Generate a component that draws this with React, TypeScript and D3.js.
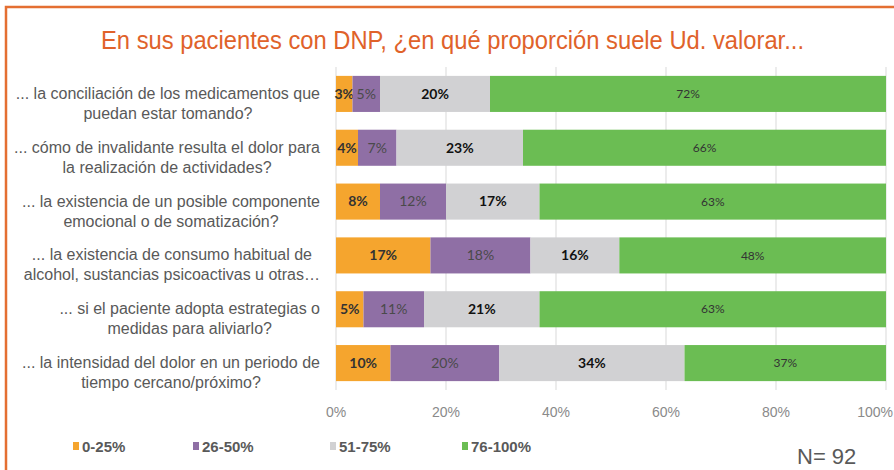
import React from "react";
import * as d3 from "d3";

const categories = [
  ["... la conciliación de los medicamentos que", "puedan estar tomando?"],
  ["... cómo de invalidante resulta el dolor para", "la realización de actividades?"],
  ["... la existencia de un posible componente", "emocional o de somatización?"],
  ["... la existencia de consumo habitual de", "alcohol, sustancias psicoactivas u otras…"],
  ["... si el paciente adopta estrategias o", "medidas para aliviarlo?"],
  ["... la intensidad del dolor en un periodo de", "tiempo cercano/próximo?"],
];
const seriesNames = ["0-25%", "26-50%", "51-75%", "76-100%"];
const v0_25 = [3, 4, 8, 17, 5, 10];
const v26_50 = [5, 7, 12, 18, 11, 20];
const v51_75 = [20, 23, 17, 16, 21, 34];
const v76_100 = [72, 66, 63, 48, 63, 37];
const xTicks = [0, 0.2, 0.4, 0.6, 0.8, 1];
const title = "En sus pacientes con DNP, ¿en qué proporción suele Ud. valorar...";
const nLabel = "N= 92";

const colors = ["#F5A52E", "#8F6FA5", "#D1D1D3", "#6BBD53"];
const labelStyles = [
  { weight: 700, size: 14, fill: "#333333" },
  { weight: 400, size: 14, fill: "#4a4a4a" },
  { weight: 700, size: 14, fill: "#111111" },
  { weight: 400, size: 12, fill: "#333333" },
];

const W = 894;
const H = 470;

function measure(text: string, font: string) {
  const c = document.createElement("canvas");
  const ctx = c.getContext("2d")!;
  ctx.font = font;
  return ctx.measureText(text).width;
}

export default function App() {
  const rows = categories.map((c, i) => ({
    key: String(i),
    s0: v0_25[i],
    s1: v26_50[i],
    s2: v51_75[i],
    s3: v76_100[i],
  }));
  const stack = d3
    .stack<any>()
    .keys(["s0", "s1", "s2", "s3"])
    .offset(d3.stackOffsetExpand);
  const series = stack(rows);
  const rawVals = [v0_25, v26_50, v51_75, v76_100];

  const x = d3.scaleLinear().domain([0, 1]).range([336, 886]);
  const y = d3
    .scaleBand<string>()
    .domain(rows.map((r) => r.key))
    .range([67, 390])
    .paddingInner(0.33)
    .paddingOuter(0.165);

  const catFont = "16px 'Liberation Sans', Arial, sans-serif";
  const tickFont = "14px 'Liberation Sans', Arial, sans-serif";
  const legendX = [73, 193, 330, 462];

  return (
    <svg
      width={W}
      height={H}
      style={{ position: "absolute", left: 0, top: 0, background: "#fff" }}
    >
      <rect x={0} y={0} width={W} height={H} fill="#fff" />
      <rect
        x={6}
        y={7}
        width={W + 20}
        height={H + 20}
        fill="none"
        stroke="#E46F32"
        strokeWidth={2.5}
      />
      <text
        x={101}
        y={49}
        textLength={703}
        lengthAdjust="spacingAndGlyphs"
        fill="#E0622A"
        style={{ font: "25px 'Liberation Sans', Arial, sans-serif" }}
      >
        {title}
      </text>
      {/* gridlines */}
      {xTicks.map((t) => (
        <line
          key={t}
          x1={x(t)}
          x2={x(t)}
          y1={67}
          y2={390}
          stroke="#D9D9D9"
          strokeWidth={1}
        />
      ))}
      {/* bars */}
      {series.map((s, si) => (
        <g key={si}>
          {s.map((d, i) => {
            const x0 = x(d[0]);
            const x1 = x(d[1]);
            const yy = y(String(i))!;
            const st = labelStyles[si];
            return (
              <g key={i}>
                <rect
                  x={x0}
                  y={yy}
                  width={x1 - x0}
                  height={y.bandwidth()}
                  fill={colors[si]}
                />
                <text
                  x={(x0 + x1) / 2}
                  y={yy + y.bandwidth() / 2}
                  dy="0.35em"
                  textAnchor="middle"
                  fill={st.fill}
                  style={{
                    fontFamily: "Lato, 'Open Sans', sans-serif",
                    fontSize: st.size,
                    fontWeight: st.weight,
                  }}
                >
                  {rawVals[si][i]}%
                </text>
              </g>
            );
          })}
        </g>
      ))}
      {/* category labels */}
      {categories.map((lines, i) => {
        const wMax = Math.max(...lines.map((l) => measure(l, catFont)));
        const cx = 320 - wMax / 2;
        const cy = y(String(i))! + y.bandwidth() / 2;
        return (
          <text
            key={i}
            textAnchor="middle"
            fill="#595959"
            style={{ font: catFont }}
          >
            {lines.map((l, j) => (
              <tspan key={j} x={cx} y={cy + 5 + j * 20}>
                {l}
              </tspan>
            ))}
          </text>
        );
      })}
      {/* x tick labels */}
      {xTicks.map((t) => {
        const label = d3.format(".0%")(t);
        const w = measure(label, tickFont);
        const fits = x(t) + w / 2 <= W - 1;
        return (
          <text
            key={t}
            x={fits ? x(t) : W - 1}
            y={417}
            textAnchor={fits ? "middle" : "end"}
            fill="#8A8A8A"
            style={{ font: tickFont }}
          >
            {label}
          </text>
        );
      })}
      {/* legend */}
      {seriesNames.map((n, i) => (
        <g key={n}>
          <rect x={legendX[i]} y={442} width={6} height={8} fill={colors[i]} />
          <text
            x={legendX[i] + 9}
            y={452}
            fill="#595959"
            style={{
              font: "bold 15px 'Liberation Sans', Arial, sans-serif",
            }}
          >
            {n}
          </text>
        </g>
      ))}
      <text
        x={797}
        y={464}
        fill="#595959"
        style={{ font: "22px 'Liberation Sans', Arial, sans-serif" }}
      >
        {nLabel}
      </text>
    </svg>
  );
}
